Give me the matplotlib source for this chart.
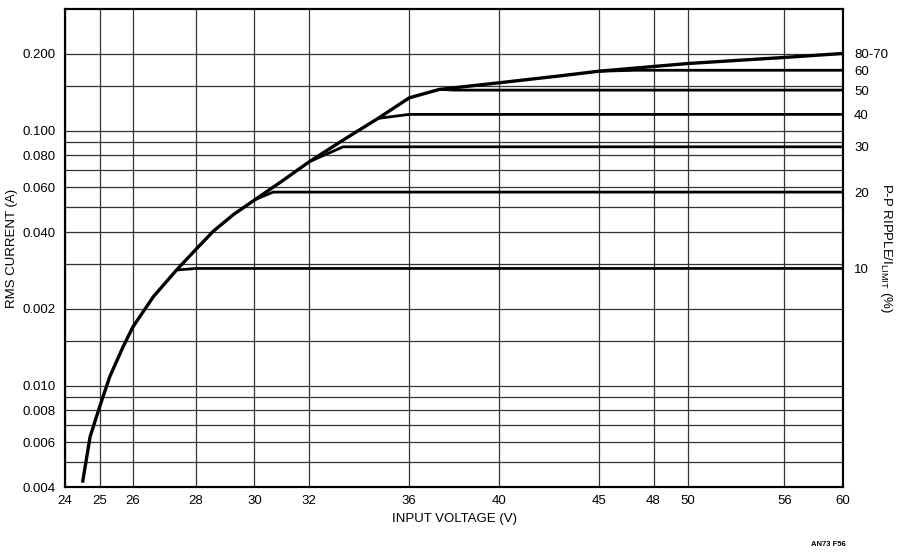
import numpy as np
import matplotlib
matplotlib.use("Agg")
import matplotlib.pyplot as plt
from matplotlib.ticker import FixedLocator, FixedFormatter, NullLocator

plt.rcParams['font.family'] = ['Liberation Sans', 'DejaVu Sans']

# envelope curve (input voltage V, rms current A)
env_volts = [24.5, 24.72, 25.0, 25.3, 25.7, 26.0, 26.63, 27.37, 28.03, 28.58,
             29.26, 30.03, 31.0, 32.0, 33.3, 34.7, 36.0, 37.3, 40.0, 43.0,
             45.0, 50.0, 56.0, 60.0]
env_amps = [0.00416, 0.0063, 0.00826, 0.01084, 0.0142, 0.0170, 0.0223, 0.0284,
            0.0345, 0.0403, 0.0468, 0.0537, 0.0635, 0.0755, 0.0918, 0.1117,
            0.1345, 0.1451, 0.154, 0.164, 0.171, 0.1834, 0.1937, 0.2008]

# ripple branches leaving the envelope and levelling off
branch_names = ['10', '20', '30', '40', '50', '60']
branch_volts = [
    [27.37, 28.0, 60.0],
    [30.03, 30.67, 60.0],
    [32.0, 33.3, 60.0],
    [34.7, 36.0, 60.0],
    [37.3, 38.0, 60.0],
    [45.0, 47.0, 60.0],
]
branch_amps = [
    [0.0284, 0.0288, 0.0288],
    [0.0537, 0.0574, 0.0574],
    [0.0755, 0.0864, 0.0864],
    [0.1117, 0.1158, 0.1158],
    [0.1451, 0.1442, 0.1442],
    [0.171, 0.1725, 0.1725],
]

right_labels = ['80-70', '60', '50', '40', '30', '20', '10']
right_levels = [0.2008, 0.1725, 0.1442, 0.1158, 0.0864, 0.0574, 0.0288]

x_ticks = [24, 25, 26, 28, 30, 32, 36, 40, 45, 48, 50, 56, 60]
y_grid = [0.004, 0.005, 0.006, 0.007, 0.008, 0.009, 0.010, 0.015, 0.020,
          0.030, 0.040, 0.050, 0.060, 0.070, 0.080, 0.090, 0.100, 0.150, 0.200]
y_labels = {0.004: '0.004', 0.006: '0.006', 0.008: '0.008', 0.010: '0.010',
            0.020: '0.002', 0.040: '0.040', 0.060: '0.060', 0.080: '0.080',
            0.100: '0.100', 0.200: '0.200'}

fs = 9.5

fig = plt.figure(figsize=(9, 5.57), dpi=100)
ax = fig.add_axes([65 / 900, 70 / 557, 778 / 900, 478 / 557])
ax.set_xscale('log')
ax.set_yscale('log')
ax.set_xlim(24, 60)
ax.set_ylim(0.004, 0.3)

ax.xaxis.set_major_locator(FixedLocator(x_ticks))
ax.xaxis.set_major_formatter(FixedFormatter([str(v) for v in x_ticks]))
ax.xaxis.set_minor_locator(NullLocator())
ax.yaxis.set_major_locator(FixedLocator(y_grid))
ax.yaxis.set_major_formatter(FixedFormatter([y_labels.get(v, '') for v in y_grid]))
ax.yaxis.set_minor_locator(NullLocator())
ax.tick_params(axis='both', length=0, labelsize=fs, colors='black')
ax.tick_params(axis='x', pad=6)
ax.tick_params(axis='y', pad=7)
ax.grid(True, color='#333333', linewidth=0.9)

for s in ax.spines.values():
    s.set_linewidth(1.5)

ax.plot(env_volts, env_amps, color='black', linewidth=2.4, solid_capstyle='butt', zorder=3)
for bv, ba in zip(branch_volts, branch_amps):
    ax.plot(bv, ba, color='black', linewidth=2.0, solid_capstyle='butt', zorder=3)

ax.set_xlabel('INPUT VOLTAGE (V)', fontsize=fs, va='center')
ax.xaxis.set_label_coords(0.5, -(519 - 487) / 478)
ax.set_ylabel('RMS CURRENT (A)', fontsize=fs, va='center')
ax.yaxis.set_label_coords((12 - 65) / 778, 0.5)

ax2 = ax.twinx()
ax2.set_yscale('log')
ax2.set_ylim(ax.get_ylim())
ax2.yaxis.set_major_locator(FixedLocator(right_levels))
ax2.yaxis.set_major_formatter(FixedFormatter(right_labels))
ax2.yaxis.set_minor_locator(NullLocator())
ax2.tick_params(axis='y', length=0, labelsize=fs, pad=8)
ax2.set_ylabel(r'P-P RIPPLE/I$_{\mathregular{LIMIT}}$ (%)', fontsize=fs,
               rotation=-90, va='center')
ax2.yaxis.set_label_coords((886 - 65) / 778, 0.5)
for s in ax2.spines.values():
    s.set_linewidth(1.5)

fig.text(828 / 900, 1 - 545 / 557, 'AN73 F56', fontsize=5.5, ha='center', va='center',
         fontweight='bold')

fig.savefig('out.png', dpi=100)
